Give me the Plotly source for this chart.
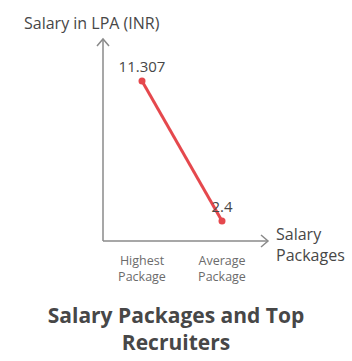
import plotly.graph_objects as go

categories = ["Highest<br>Package", "Average<br>Package"]
salaries = [11.307, 2.4]
value_labels = ["11.307", "2.4"]

W, H = 352, 361
L, R, T, B = 103, 84, 40, 120
pw, ph = W - L - R, H - T - B

axis_col = "#8a8a8a"
text_col = "#474747"
font_fam = "Open Sans, Lato, sans-serif"

fig = go.Figure()
fig.add_trace(go.Scatter(
    x=[0, 1], y=salaries,
    mode="lines+markers+text",
    line=dict(color="#e5484d", width=3),
    marker=dict(color="#e5484d", size=7),
    text=value_labels,
    textposition="top center",
    textfont=dict(size=15, color=text_col, family=font_fam),
    cliponaxis=False,
    hoverinfo="skip",
))

def px_x(p):
    return (p - L) / pw

def px_y(p):
    return (H - B - p) / ph

shapes = [
    dict(type="path", xref="paper", yref="paper",
         path=f"M {px_x(97)} {px_y(46)} L {px_x(103)} {px_y(39)} L {px_x(109)} {px_y(46)}",
         line=dict(color=axis_col, width=1.5)),
    dict(type="path", xref="paper", yref="paper",
         path=f"M {px_x(261)} {px_y(235)} L {px_x(268)} {px_y(241)} L {px_x(261)} {px_y(247)}",
         line=dict(color=axis_col, width=1.5)),
    dict(type="line", xref="paper", yref="paper", x0=0, x1=px_x(268), y0=0, y1=0,
         line=dict(color=axis_col, width=1.5)),
    dict(type="line", xref="paper", yref="paper", x0=0, x1=0, y0=0, y1=px_y(39),
         line=dict(color=axis_col, width=1.5)),
]

annotations = [
    dict(text="Salary in LPA (INR)", xref="paper", yref="paper",
         x=px_x(22), y=px_y(23), xanchor="left", yanchor="middle", showarrow=False,
         font=dict(size=16, color=text_col, family=font_fam)),
    dict(text="Salary<br>Packages", xref="paper", yref="paper",
         x=px_x(274), y=px_y(244), xanchor="left", yanchor="middle", align="left",
         showarrow=False, font=dict(size=16, color=text_col, family=font_fam)),
]

fig.update_layout(
    width=W, height=H,
    margin=dict(l=L, r=R, t=T, b=B),
    paper_bgcolor="white", plot_bgcolor="white",
    showlegend=False,
    shapes=shapes,
    annotations=annotations,
    title=dict(text="<b>Salary Packages and Top<br>Recruiters</b>",
               x=0.5, xanchor="center", xref="container",
               y=1 - 323 / H, yanchor="middle",
               font=dict(size=21, color=text_col, family=font_fam)),
    xaxis=dict(range=[-0.4875, 1.575], tickvals=[0, 1], ticktext=categories,
               showgrid=False, zeroline=False, showline=False, ticks="",
               ticklabelstandoff=10,
               tickfont=dict(size=12.5, color="#6b6b6b", family=font_fam),
               fixedrange=True),
    yaxis=dict(range=[1.128, 13.915], showticklabels=False, showgrid=False,
               zeroline=False, showline=False, ticks="", fixedrange=True),
)

fig.write_html("out.html")
